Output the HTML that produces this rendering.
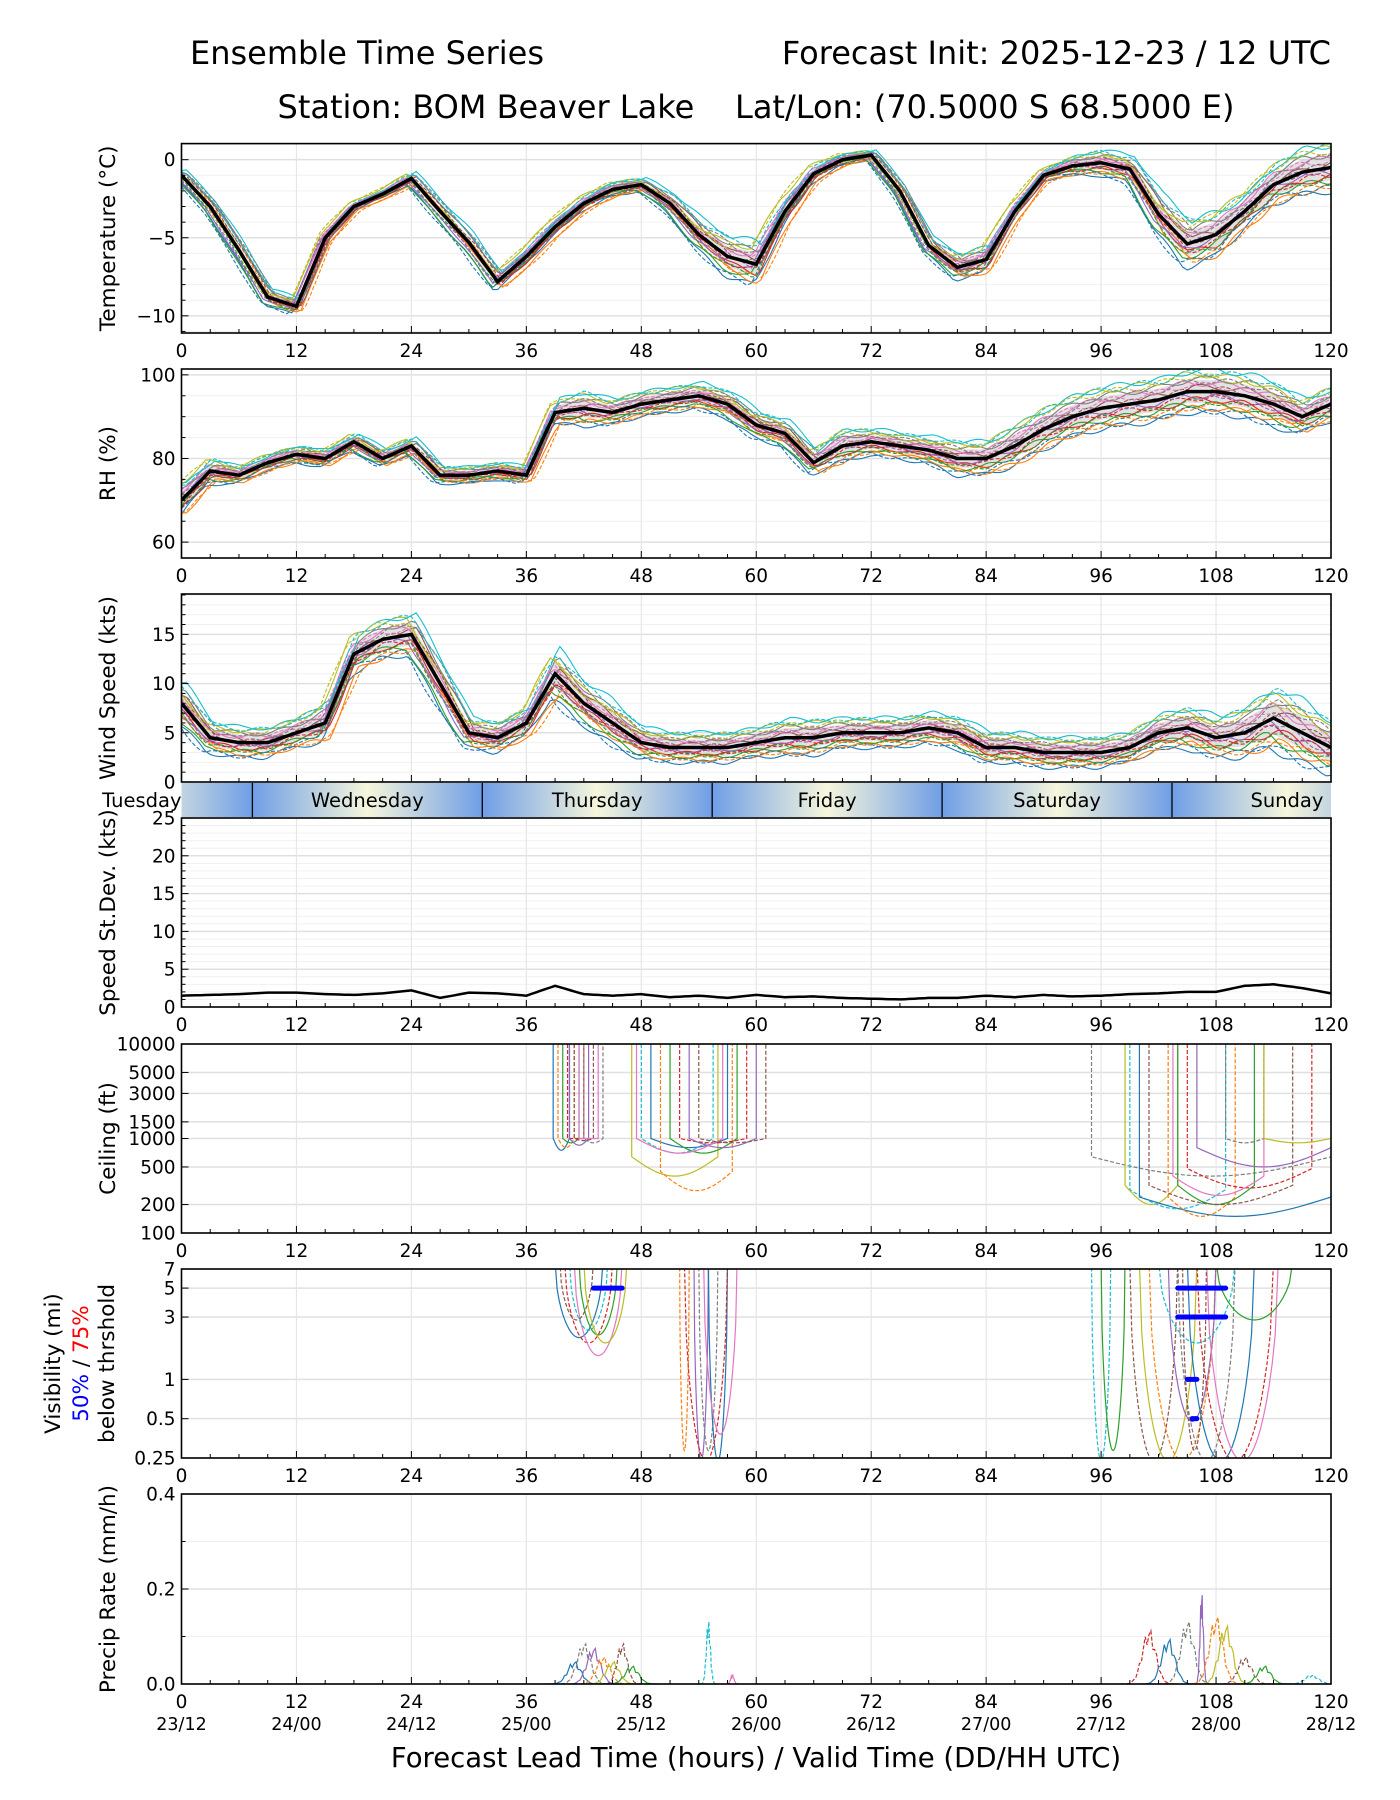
<!DOCTYPE html>
<html><head><meta charset="utf-8">
<style>
body{margin:0;background:#fff;}
svg{display:block;font-family:"DejaVu Sans","Liberation Sans",sans-serif;}
</style></head>
<body>
<svg id="chart" width="1400" height="1800" viewBox="0 0 1400 1800" xmlns="http://www.w3.org/2000/svg">
<text x="367" y="64" font-size="32" text-anchor="middle">Ensemble Time Series</text>
<text x="1331" y="64" font-size="32" text-anchor="end">Forecast Init: 2025-12-23 / 12 UTC</text>
<text x="756" y="118" font-size="32" text-anchor="middle" xml:space="preserve" style="white-space:pre">Station: BOM Beaver Lake    Lat/Lon: (70.5000 S 68.5000 E)</text>
<text x="756" y="1767" font-size="27.5" text-anchor="middle">Forecast Lead Time (hours) / Valid Time (DD/HH UTC)</text>
</svg>
<script>
// ---- data ----
const hours3 = [0,3,6,9,12,15,18,21,24,27,30,33,36,39,42,45,48,51,54,57,60,63,66,69,72,75,78,81,84,87,90,93,96,99,102,105,108,111,114,117,120];
const tempMean = [-1,-3,-5.8,-8.8,-9.4,-5,-3,-2.2,-1.2,-3.3,-5.3,-7.8,-6.2,-4.3,-2.8,-1.9,-1.6,-2.8,-4.8,-6.2,-6.7,-3.3,-0.9,0,0.3,-2,-5.5,-6.9,-6.4,-3.3,-1,-0.4,-0.2,-0.6,-3.5,-5.4,-4.8,-3.3,-1.6,-0.8,-0.5];
const tempSpread = [0.3,0.4,0.5,0.5,0.5,0.4,0.3,0.3,0.4,0.5,0.6,0.6,0.6,0.6,0.5,0.5,0.4,0.6,0.9,1.2,1.4,1.0,0.6,0.4,0.3,0.4,0.5,0.8,0.9,0.6,0.4,0.6,0.8,0.8,1.2,1.5,1.5,1.2,1.3,1.5,1.5];
const rhMean = [70,77,76,79,81,80,84,80,83,76,76,77,76,91,92,91,93,94,95,93,88,86,79,83,84,83,82,80,80,83,87,90,92,93,94,96,96,95,93,90,93];
const rhSpread = [4,3,2,2,2,2,2,2,2,2,2,2,2,3,4,3,3,3,3,3,3,3,3,4,3,3,3,4,4,5,5,5,5,5,5,5,5,5,5,4,4];
const windMean = [8,4.5,4,4,5,6,13,14.5,15,10,5,4.5,6,11,8,6,4,3.5,3.5,3.5,4,4.5,4.5,5,5,5,5.5,5,3.5,3.5,3,3,3,3.5,5,5.5,4.5,5,6.5,5,3.5];
const windSpread = [2,1.5,1.5,1.5,1.5,2,2,2,2,2,1.5,1.5,1.5,2.5,2,2,1.5,1.5,1.5,1.5,1.5,1.8,1.8,1.5,1.5,1.5,1.5,1.5,1.5,1.5,1.5,1.5,1.5,1.5,1.8,2,2,2.5,3,3,2.5];
const stdevVals = [1.5,1.6,1.7,1.9,1.9,1.7,1.6,1.8,2.2,1.2,1.9,1.8,1.5,2.8,1.7,1.5,1.7,1.3,1.5,1.2,1.6,1.3,1.4,1.2,1.1,1.0,1.2,1.2,1.5,1.3,1.6,1.4,1.5,1.7,1.8,2.0,2.0,2.8,3.0,2.5,1.8];
const memberFactors = [-1,-0.8,-0.6,-0.4,-0.2,0.2,0.4,0.6,0.8,1,-0.9,-0.7,-0.5,-0.3,-0.1,0.1,0.3,0.5,0.7,0.9];
const memberShifts = [0.3,-0.4,0.6,-0.2,0.5,-0.6,0.2,-0.3,0.4,-0.5,0.7,-0.7,0.1,-0.1,0.5,-0.4,0.3,-0.6,0.6,-0.2];
const ceilStart = [38.8,39.3,39.8,40.3,40.5,41,41.5,42,47,48,49,50,51,52,53,54,47.5,95,98.5,99,100,103,104,105,106,101,103.5,109,113];
const ceilEnd = [40.5,41,41.5,42,42.5,43,43.5,44,56,55.5,57,57.5,58,59,60,61,56.5,120,104,109,120,110,112,118,120,116,113,113,120];
const ceilMin = [750,800,900,1000,850,950,1000,900,400,700,800,280,700,900,800,900,700,400,200,180,150,150,200,300,500,200,250,900,900];
const visStart = [39,40,41,40.5,41.5,39.5,42,52,53.5,54,55,52.5,54.5,95,96,99,100,101,103,104,105,106,107,102,108,104.5];
const visEnd = [44,45,46,44.5,45.5,43,46.5,53,55,56,57,57,58,97,98.5,104,106,108,108,110,112,114,114.5,110,116,107];
const visMin = [2.2,2,1.6,2.5,2.3,3,2,0.3,0.25,0.3,0.25,0.25,0.4,0.25,0.3,0.25,0.25,0.25,0.5,0.25,0.25,0.25,0.25,2,3,0.3];
const visBarStart = [43,104,104,105,105.5];
const visBarEnd = [46,109,109,106,106];
const visBarLevel = [5,5,3,1,0.5];
const precipCenter = [41,42,43,44,45,46,47,55,57.5,101,103,105,106.5,108,109,111,113,118];
const precipWidth = [2,2,2,2,2,1.5,2,0.6,0.5,2,2,2,0.5,2,2,2,2,2];
const precipPeak = [0.05,0.09,0.08,0.06,0.05,0.09,0.04,0.14,0.02,0.12,0.1,0.14,0.2,0.15,0.13,0.06,0.04,0.02];
const xTicks = [0,12,24,36,48,60,72,84,96,108,120];
const dateLabels = ["23/12","24/00","24/12","25/00","25/12","26/00","26/12","27/00","27/12","28/00","28/12"];
const dayNames = ["Tuesday","Wednesday","Thursday","Friday","Saturday","Sunday"];
const dayBounds = [7.4,31.4,55.4,79.4,103.4];
const colors = ["#1f77b4","#ff7f0e","#2ca02c","#d62728","#9467bd","#8c564b","#e377c2","#7f7f7f","#bcbd22","#17becf"];

const NS="http://www.w3.org/2000/svg";
const svg=document.getElementById('chart');
const L=181.5,R=1331;
const FS=18.5, YFS=21.5;
const X=h=>L+(R-L)*h/120;
function mk(tag,attrs,parent){const e=document.createElementNS(NS,tag);for(const k in attrs)e.setAttribute(k,attrs[k]);(parent||svg).appendChild(e);return e;}
function interp(arr,t){t=Math.max(0,Math.min(120,t));const i=Math.min(39,Math.floor(t/3));const f=(t-hours3[i])/3;return arr[i]*(1-f)+arr[i+1]*f;}

function panel(name,top,bot,yfun,ticks,tickLabels,minorTicks){
  const g=mk('g',{});
  
  
  minorTicks.forEach(v=>{const y=yfun(v);mk('line',{x1:L,x2:R,y1:y,y2:y,stroke:'#f0f0f0','stroke-width':1},g);});
  ticks.forEach(v=>{const y=yfun(v);mk('line',{x1:L,x2:R,y1:y,y2:y,stroke:'#e0e0e0','stroke-width':1.5},g);});
  xTicks.forEach(h=>{mk('line',{x1:X(h),x2:X(h),y1:top,y2:bot,stroke:'#e6e6e6','stroke-width':1.2},g);});
  return g;
}
function frame(name,top,bot,yfun,ticks,tickLabels,minorTicks,ylabel,showX){
  const g=mk('g',{});
  
  
  mk('rect',{x:L,y:top,width:R-L,height:bot-top,fill:'none',stroke:'#000','stroke-width':1.6},g);
  for(let h=0;h<=120;h+=3){const big=h%12===0;mk('line',{x1:X(h),x2:X(h),y1:bot,y2:bot-(big?7:4),stroke:'#000','stroke-width':1},g);}
  ticks.forEach((v,i)=>{const y=yfun(v);mk('line',{x1:L,x2:L+7,y1:y,y2:y,stroke:'#000'},g);
    const t=mk('text',{x:L-6,y:y+6.5,'font-size':FS,'text-anchor':'end'},g);t.textContent=tickLabels[i];
    
    });
  minorTicks.forEach(v=>{const y=yfun(v);mk('line',{x1:L,x2:L+4,y1:y,y2:y,stroke:'#000'},g);});
  if(showX){xTicks.forEach(h=>{const t=mk('text',{x:X(h),y:bot+24,'font-size':FS,'text-anchor':'middle'},g);t.textContent=h;
    
    });}
  if(ylabel){const cy=(top+bot)/2;const t=mk('text',{x:0,y:0,'font-size':YFS,'text-anchor':'middle',transform:`translate(115,${cy}) rotate(-90)`},g);t.textContent=ylabel;
    
    }
}
function linFun(top,bot,lo,hi){return v=>bot-(v-lo)/(hi-lo)*(bot-top);}
function logFun(top,bot,lo,hi){return v=>bot-(Math.log(v)-Math.log(lo))/(Math.log(hi)-Math.log(lo))*(bot-top);}
function clipFor(name,top,bot){const cp=mk('clipPath',{id:'clip-'+name});mk('rect',{x:L,y:top,width:R-L,height:bot-top},cp);return 'url(#clip-'+name+')';}

function ensemblePanel(name,top,bot,lo,hi,mean,spread,ticks,labels,minor,ylabel,showX){
  const yf=linFun(top,bot,lo,hi);
  panel(name,top,bot,yf,ticks,labels,minor);
  const g=mk('g',{'clip-path':clipFor(name,top,bot)});
  
  
  let up='',dn='';
  for(let t=0;t<=120;t+=0.5){const m=interp(mean,t),s=interp(spread,t)*0.55;up+=(t?'L':'M')+X(t).toFixed(1)+','+yf(m+s).toFixed(1);}
  for(let t=120;t>=0;t-=0.5){const m=interp(mean,t),s=interp(spread,t)*0.55;dn+='L'+X(t).toFixed(1)+','+yf(m-s).toFixed(1);}
  const band=mk('path',{d:up+dn+'Z',fill:'#cfcfcf','fill-opacity':0.6,stroke:'none'},g);
  
  
  memberFactors.forEach((f,i)=>{
    let d='';
    for(let t=0;t<=120;t+=0.5){const wig=Math.sin((t+i*7)*1.3)*interp(spread,t)*0.15;const v=interp(mean,t+memberShifts[i])+f*interp(spread,t)+wig;d+=(t?'L':'M')+X(t).toFixed(1)+','+yf(v).toFixed(1);}
    const p=mk('path',{d:d,fill:'none',stroke:colors[i%10],'stroke-width':1.1,'stroke-dasharray':i>=10?'4,2':'none'},g);
    
    
  });
  let d='';
  for(let t=0;t<=120;t+=0.5){d+=(t?'L':'M')+X(t).toFixed(1)+','+yf(interp(mean,t)).toFixed(1);}
  const ml=mk('path',{d:d,fill:'none',stroke:'#000','stroke-width':3.5},g);
  
  
  frame(name,top,bot,yf,ticks,labels,minor,ylabel,showX);
}

ensemblePanel('temperature',143.6,333,-11.1,1.03,tempMean,tempSpread,[0,-5,-10],['0','−5','−10'],[-1,-2,-3,-4,-6,-7,-8,-9,-11],'Temperature (°C)',true);
ensemblePanel('rh',369,558,56.2,101.4,rhMean,rhSpread,[60,80,100],['60','80','100'],[65,70,75,85,90,95],'RH (%)',true);
ensemblePanel('wind',594,782,0,19.1,windMean,windSpread,[0,5,10,15],['0','5','10','15'],[1,2,3,4,6,7,8,9,11,12,13,14,16,17,18,19],'Wind Speed (kts)',false);

// Day band
(function(){
  const top=783,bot=817;
  const g=mk('g',{});
  
  
  const defs=mk('defs',{},g);
  const gr=mk('linearGradient',{id:'dayg',x1:0,x2:1,y1:0,y2:0},defs);
  mk('stop',{offset:'0','stop-color':'#6f9ee6'},gr);
  mk('stop',{offset:'0.5','stop-color':'#f6f6dc'},gr);
  mk('stop',{offset:'1','stop-color':'#6f9ee6'},gr);
  const edges=[-16.6].concat(dayBounds).concat([127.4]);
  for(let i=0;i<edges.length-1;i++){
    const x0=X(edges[i]),x1=X(edges[i+1]);
    const cx0=Math.max(x0,L),cx1=Math.min(x1,R);
    const sv=document.createElementNS(NS,'svg');sv.setAttribute('x',cx0);sv.setAttribute('y',top);sv.setAttribute('width',cx1-cx0);sv.setAttribute('height',bot-top);sv.setAttribute('overflow','hidden');g.appendChild(sv);
    mk('rect',{x:x0-cx0,y:0,width:x1-x0,height:bot-top,fill:'url(#dayg)'},sv);
  }
  dayBounds.forEach(b=>mk('line',{x1:X(b),x2:X(b),y1:top,y2:bot,stroke:'#000','stroke-width':1.3},g));
  const labelX=[X(0),X(19.4),X(43.4),X(67.4),X(91.4),X(115.4)];
  dayNames.forEach((n,i)=>{const t=mk('text',{x:labelX[i],y:top+24,'font-size':19.5,'text-anchor':i===0?'end':'middle'},g);t.textContent=n;
    
    });
})();

// Stdev
(function(){
  const top=818,bot=1007;const yf=linFun(top,bot,0,25);
  const minor=[];for(let v=1;v<25;v++)if(v%5)minor.push(v);
  panel('stdev',top,bot,yf,[0,5,10,15,20,25],[],minor);
  let d='';for(let t=0;t<=120;t+=0.5){d+=(t?'L':'M')+X(t).toFixed(1)+','+yf(interp(stdevVals,t)).toFixed(1);}
  const p=mk('path',{d:d,fill:'none',stroke:'#000','stroke-width':2.5});
  
  
  frame('stdev',top,bot,yf,[0,5,10,15,20,25],['0','5','10','15','20','25'],minor,'Speed St.Dev. (kts)',true);
})();

// Ceiling
(function(){
  const top=1044,bot=1233;const yf=logFun(top,bot,100,10000);
  const ticks=[100,200,500,1000,1500,3000,5000,10000];
  panel('ceiling',top,bot,yf,ticks,[],[]);
  const g=mk('g',{'clip-path':clipFor('ceiling',top,bot)});
  
  
  ceilStart.forEach((s,i)=>{
    const e=ceilEnd[i],m=ceilMin[i];const entry=Math.max(m,Math.min(1000,m*1.6));
    let d=`M${X(s)},${yf(10000)}L${X(s)},${yf(entry)}`;
    for(let k=1;k<=20;k++){const t=s+(e-s)*k/20;const f=Math.sin(Math.PI*k/20);const v=Math.exp(Math.log(entry)*(1-f)+Math.log(m)*f);d+=`L${X(t).toFixed(1)},${yf(v).toFixed(1)}`;}
    if(e<120)d+=`L${X(e)},${yf(10000)}`;
    const p=mk('path',{d:d,fill:'none',stroke:colors[i%10],'stroke-width':1.2,'stroke-dasharray':i%2?'4,2':'none'},g);
    
    
  });
  frame('ceiling',top,bot,yf,ticks,ticks.map(String),[],'Ceiling (ft)',true);
})();

// Visibility
(function(){
  const top=1269,bot=1458;const yf=logFun(top,bot,0.25,7);
  const ticks=[0.25,0.5,1,3,5,7];
  panel('visibility',top,bot,yf,ticks,[],[]);
  const g=mk('g',{'clip-path':clipFor('visibility',top,bot)});
  
  
  visStart.forEach((s,i)=>{
    const e=visEnd[i],m=visMin[i];let d='';
    for(let k=0;k<=24;k++){const t=s+(e-s)*k/24;const f=Math.pow(Math.sin(Math.PI*k/24),0.5);const v=Math.exp(Math.log(8)*(1-f)+Math.log(m*0.95)*f);d+=(k?'L':'M')+X(t).toFixed(1)+','+yf(v).toFixed(1);}
    const p=mk('path',{d:d,fill:'none',stroke:colors[(i*3)%10],'stroke-width':1.2,'stroke-dasharray':i%2?'4,2':'none'},g);
    
    
  });
  visBarStart.forEach((s,i)=>{const y=yf(visBarLevel[i]);
    const b=mk('line',{x1:X(s),x2:X(visBarEnd[i]),y1:y,y2:y,stroke:'#0000ff','stroke-width':5,'stroke-linecap':'round'},g);
    
    });
  frame('visibility',top,bot,yf,ticks,['0.25','0.5','1','3','5','7'],[],null,true);
  const cy=(top+bot)/2;
  const t1=mk('text',{'font-size':YFS,'text-anchor':'middle',transform:`translate(60,${cy}) rotate(-90)`});t1.textContent='Visibility (mi)';
  
  
  const t2=mk('text',{'font-size':YFS,'text-anchor':'middle',transform:`translate(88,${cy}) rotate(-90)`});
  
  
  const a=mk('tspan',{fill:'#0000ff'},t2);a.textContent='50%';const b=mk('tspan',{fill:'#000'},t2);b.textContent=' / ';const c=mk('tspan',{fill:'#ff0000'},t2);c.textContent='75%';
  const t3=mk('text',{'font-size':YFS,'text-anchor':'middle',transform:`translate(114,${cy}) rotate(-90)`});t3.textContent='below thrshold';
  
  
})();

// Precip
(function(){
  const top=1494,bot=1684;const yf=linFun(top,bot,0,0.4);
  const ticks=[0,0.2,0.4];
  panel('precip',top,bot,yf,ticks,[],[0.1,0.3]);
  const g=mk('g',{'clip-path':clipFor('precip',top,bot)});
  
  
  precipCenter.forEach((c,i)=>{
    const w=precipWidth[i],pk=precipPeak[i];let d='';
    for(let k=0;k<=30;k++){const t=c-w*1.5+w*3*k/30;const v=pk*Math.exp(-Math.pow((t-c)/(w*0.5),2))*(0.85+0.15*Math.sin(k*2.1));d+=(k?'L':'M')+X(t).toFixed(1)+','+yf(v).toFixed(1);}
    const p=mk('path',{d:d,fill:'none',stroke:colors[(i*7)%10],'stroke-width':1.2,'stroke-dasharray':i%2?'4,2':'none'},g);
    
    
  });
  frame('precip',top,bot,yf,ticks,['0.0','0.2','0.4'],[0.1,0.3],'Precip Rate (mm/h)',true);
  dateLabels.forEach((s,i)=>{const t=mk('text',{x:X(xTicks[i]),y:bot+46,'font-size':FS-1,'text-anchor':'middle'});t.textContent=s;
    
    });
})();
</script>
</body></html>
